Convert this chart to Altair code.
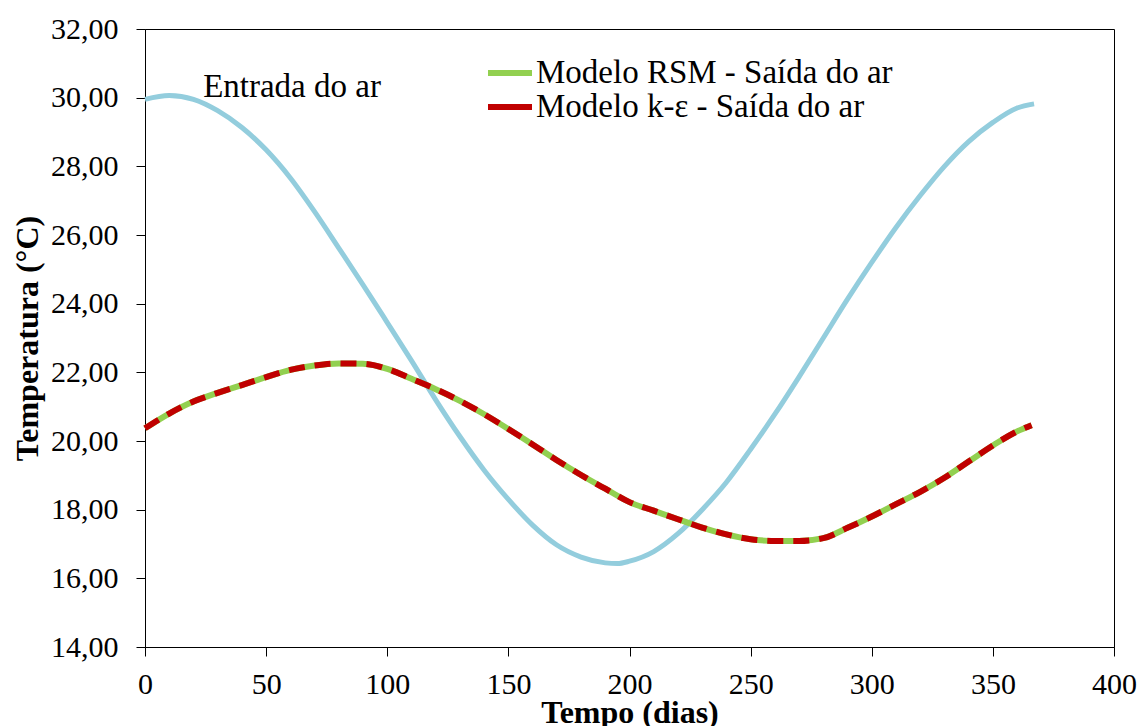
import altair as alt
import pandas as pd

# Air temperature at the duct inlet (dias, °C)
dias_entrada = [0, 10, 20, 30, 40, 50, 60, 70, 80, 90, 100, 110, 120,
                130, 140, 150, 160, 170, 180, 190, 195, 200, 210, 220, 230, 240,
                250, 260, 270, 280, 290, 300, 310, 320, 330, 340, 350, 360, 367]
temp_entrada = [29.95, 30.06, 29.95, 29.62, 29.13, 28.48, 27.66,
                26.68, 25.62, 24.55, 23.45, 22.34, 21.20, 20.13, 19.15,
                18.30, 17.55, 16.97, 16.62, 16.45, 16.43, 16.50, 16.78, 17.30,
                18.00, 18.80, 19.76, 20.78, 21.87, 23.00, 24.13, 25.20, 26.22,
                27.15, 28.00, 28.72, 29.28, 29.70, 29.82]

# Outlet air temperature predicted by the two turbulence models
dias_saida = [0, 10, 20, 30, 40, 50, 60, 70, 80, 90, 100, 110, 120, 130, 140,
              150, 160, 170, 180, 190, 200, 210, 220, 230, 240, 250, 260, 270,
              280, 290, 300, 310, 320, 330, 340, 350, 360, 366]
temp_rsm = [20.37, 20.80, 21.15, 21.40, 21.63, 21.86, 22.07, 22.20, 22.26, 22.25,
            22.10, 21.81, 21.51, 21.17, 20.78, 20.35, 19.90, 19.44, 19.01,
            18.61, 18.22, 17.97, 17.72, 17.48, 17.28, 17.14, 17.09, 17.09, 17.17,
            17.47, 17.80, 18.16, 18.52, 18.93, 19.40, 19.87, 20.28, 20.46]
temp_ke = [20.37, 20.80, 21.15, 21.40, 21.63, 21.86, 22.07, 22.20, 22.26, 22.25,
           22.10, 21.81, 21.51, 21.17, 20.78, 20.35, 19.90, 19.44, 19.01,
           18.61, 18.22, 17.97, 17.72, 17.48, 17.28, 17.14, 17.09, 17.09, 17.17,
           17.47, 17.80, 18.16, 18.52, 18.93, 19.40, 19.87, 20.28, 20.46]

serie_rsm = "Modelo RSM - Saída do ar"
serie_ke = "Modelo k-ε - Saída do ar"
series = [serie_rsm, serie_ke]
cores = ["#92D050", "#C00000"]
cor_entrada = "#93CDDD"

rotulo_texto = ["Entrada do ar"]
rotulo_dia = [24]
rotulo_temp = [30.03]

entrada = pd.DataFrame({"dia": dias_entrada, "temp": temp_entrada})
saida = pd.concat([
    pd.DataFrame({"dia": dias_saida, "temp": temp_rsm, "serie": serie_rsm}),
    pd.DataFrame({"dia": dias_saida, "temp": temp_ke, "serie": serie_ke}),
])
rotulo = pd.DataFrame({"texto": rotulo_texto, "dia": rotulo_dia, "temp": rotulo_temp})

FONTE = "Liberation Serif, Times New Roman, serif"

x_enc = alt.X(
    "dia:Q",
    scale=alt.Scale(domain=[0, 400], nice=False),
    axis=alt.Axis(
        title="Tempo (dias)", values=list(range(0, 401, 50)),
        titleY=75, titleBaseline="alphabetic", labelPadding=13,
        labelFont=FONTE, titleFont=FONTE,
    ),
)
y_enc = alt.Y(
    "temp:Q",
    scale=alt.Scale(domain=[14, 32], nice=False, zero=False),
    axis=alt.Axis(
        title="Temperatura (°C)", values=list(range(14, 33, 2)),
        labelExpr="replace(format(datum.value, '.2f'), '.', ',')",
        labelPadding=18, titleX=-108, titleY=309, titleAngle=-90,
        titleAlign="center", titleBaseline="alphabetic",
        labelFont=FONTE, titleFont=FONTE,
    ),
)

cor = alt.Color(
    "serie:N",
    scale=alt.Scale(domain=series, range=cores),
    legend=alt.Legend(
        title=None, orient="none", legendX=340, legendY=27,
        symbolType="stroke", symbolSize=1936, symbolStrokeWidth=6,
        symbolDash=[1, 0], labelOffset=1, labelFontSize=33, labelFont=FONTE,
        labelColor="black", clipHeight=34, rowPadding=0, padding=0,
        labelLimit=600,
    ),
)

linha_entrada = alt.Chart(entrada).mark_line(
    color=cor_entrada, strokeWidth=5, interpolate="monotone"
).encode(x=x_enc, y=y_enc)

linha_rsm = alt.Chart(saida).transform_filter(
    alt.datum.serie == serie_rsm
).mark_line(strokeWidth=6, interpolate="monotone").encode(x=x_enc, y=y_enc, color=cor)

linha_ke = alt.Chart(saida).transform_filter(
    alt.datum.serie == serie_ke
).mark_line(strokeWidth=6, strokeDash=[16, 10], interpolate="monotone").encode(
    x=x_enc, y=y_enc, color=cor
)

texto = alt.Chart(rotulo).mark_text(
    align="left", baseline="alphabetic", fontSize=33, font=FONTE, color="black"
).encode(x="dia:Q", y="temp:Q", text="texto:N")

chart = alt.layer(linha_entrada, linha_rsm, linha_ke, texto).properties(
    width=969, height=618,
    padding={"left": 145, "top": 29, "right": 29, "bottom": 79},
    autosize=alt.AutoSizeParams(type="none"),
    background="white",
).configure_view(
    stroke="black", strokeWidth=1
).configure_axis(
    grid=False, domainColor="black", domainWidth=1, tickColor="black",
    tickSize=9, tickWidth=1, labelFont=FONTE, labelFontSize=30,
    labelColor="black", titleFont=FONTE, titleFontSize=32,
    titleFontWeight="bold", titleColor="black", labelFlush=False,
    labelOverlap=False,
)

chart.save("out.html", embed_options={"renderer": "svg", "actions": False})
